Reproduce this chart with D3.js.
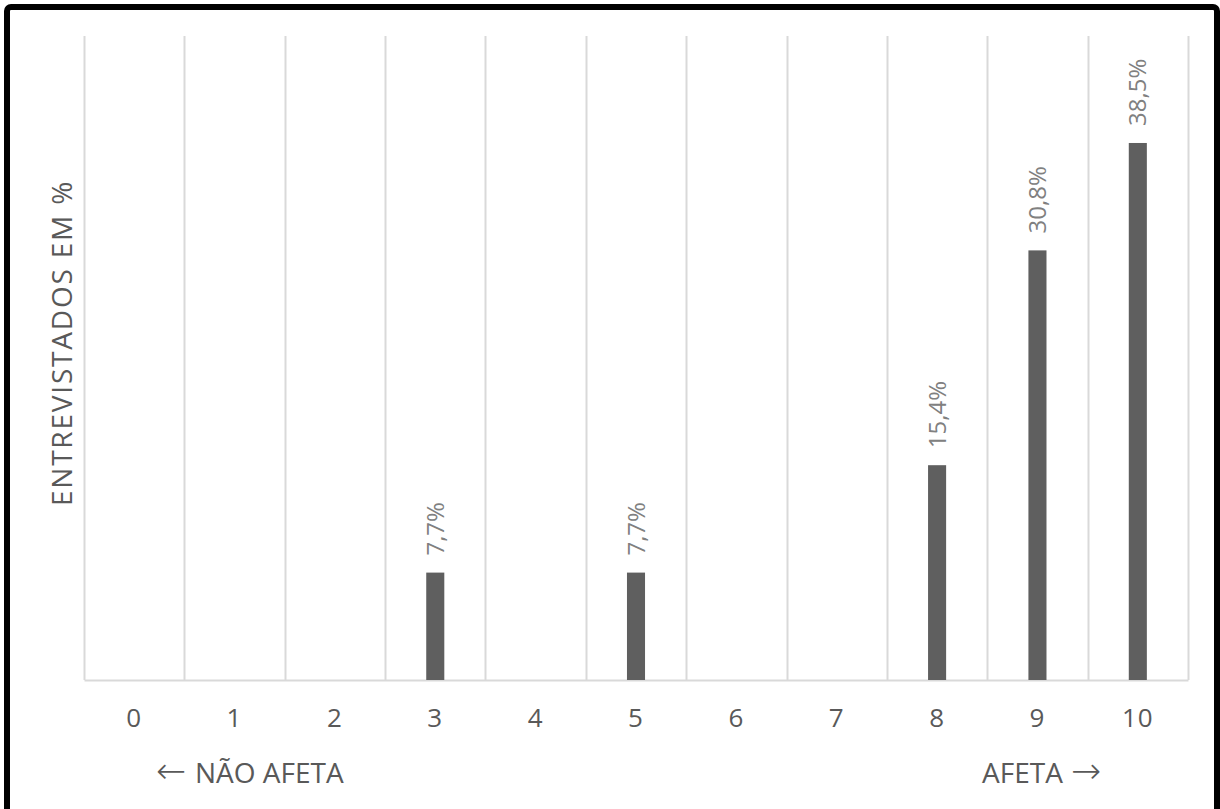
<!DOCTYPE html>
<html>
<head>
<meta charset="utf-8">
<script src="https://cdn.jsdelivr.net/npm/d3@7"></script>
<style>
  html, body { margin: 0; padding: 0; background: #fff; }
  svg { display: block; font-family: "Open Sans", "Noto Sans", sans-serif; }
</style>
</head>
<body>
<svg id="chart" width="1220" height="809"></svg>
<script>
// Survey scores 0–10 and share of respondents (%)
const categories = ["0", "1", "2", "3", "4", "5", "6", "7", "8", "9", "10"];
const values = [0, 0, 0, 7.7, 0, 7.7, 0, 0, 15.4, 30.8, 38.5];
const valueLabels = ["", "", "", "7,7%", "", "7,7%", "", "", "15,4%", "30,8%", "38,5%"];
const yAxisTitle = "ENTREVISTADOS EM %";
const leftArrow = "←";
const leftNote = "NÃO AFETA";
const rightNote = "AFETA";
const rightArrow = "→";
const yMax = 46.17;

const svg = d3.select("#chart");

const plot = { left: 84, right: 1188, top: 36, bottom: 680 };

const x = d3.scaleBand()
  .domain(categories)
  .range([plot.left, plot.right])
  .padding(0);

const y = d3.scaleLinear()
  .domain([0, yMax])
  .range([plot.bottom, plot.top]);

const data = categories.map((c, i) => ({ cat: c, value: values[i], label: valueLabels[i] }));

// Frame around the chart
svg.append("rect")
  .attr("x", 7).attr("y", 7)
  .attr("width", 1210).attr("height", 830)
  .attr("rx", 4)
  .attr("fill", "none")
  .attr("stroke", "#000")
  .attr("stroke-width", 6);

// Vertical gridlines at category boundaries
const bounds = categories.map(c => x(c)).concat([x(categories[categories.length - 1]) + x.bandwidth()]);
svg.append("g")
  .selectAll("line")
  .data(bounds)
  .join("line")
  .attr("x1", d => Math.round(d) + 0.5)
  .attr("x2", d => Math.round(d) + 0.5)
  .attr("y1", plot.top)
  .attr("y2", plot.bottom)
  .attr("stroke", "#d9d9d9")
  .attr("stroke-width", 2);

// Category axis
const xAxis = svg.append("g")
  .attr("transform", `translate(0,${plot.bottom})`)
  .call(d3.axisBottom(x).tickSize(0).tickPadding(0));
xAxis.select(".domain")
  .attr("stroke", "#d9d9d9")
  .attr("stroke-width", 2);
xAxis.selectAll(".tick text")
  .attr("y", 47)
  .attr("dy", 0)
  .attr("fill", "#595959")
  .style("font-size", "26px")
  .style("letter-spacing", "1px")
  .style("font-family", "'Open Sans', sans-serif");

// Bars
const barW = x.bandwidth() * 0.18;
svg.append("g")
  .selectAll("rect")
  .data(data.filter(d => d.value > 0))
  .join("rect")
  .attr("x", d => x(d.cat) + (x.bandwidth() - barW) / 2)
  .attr("y", d => y(d.value))
  .attr("width", barW)
  .attr("height", d => y(0) - y(d.value))
  .attr("fill", "#5f5f5f");

// Rotated value labels above bars
svg.append("g")
  .selectAll("text")
  .data(data.filter(d => d.label))
  .join("text")
  .attr("transform", d => `translate(${x(d.cat) + x.bandwidth() / 2 + 8.5},${y(d.value) - 17}) rotate(-90)`)
  .attr("text-anchor", "start")
  .attr("fill", "#808080")
  .style("font-size", "24px")
  .text(d => d.label);

// Axis title
svg.append("text")
  .attr("transform", `translate(72,343) rotate(-90)`)
  .attr("text-anchor", "middle")
  .attr("fill", "#595959")
  .style("font-size", "28px")
  .style("letter-spacing", "1.8px")
  .text(yAxisTitle);

// Direction notes below the axis
const left = svg.append("text")
  .attr("x", 156)
  .attr("y", 783)
  .attr("fill", "#595959")
  .style("font-size", "28px");
left.append("tspan")
  .style("font-family", "'DejaVu Sans', sans-serif")
  .style("font-size", "36px")
  .style("font-weight", "200")
  .text(leftArrow);
left.append("tspan")
  .attr("x", 195)
  .text(leftNote);

const right = svg.append("text")
  .attr("x", 982)
  .attr("y", 783)
  .attr("fill", "#595959")
  .style("font-size", "28px");
right.append("tspan").text(rightNote);
right.append("tspan")
  .attr("x", 1071)
  .style("font-family", "'DejaVu Sans', sans-serif")
  .style("font-size", "36px")
  .style("font-weight", "200")
  .text(rightArrow);
</script>
</body>
</html>
